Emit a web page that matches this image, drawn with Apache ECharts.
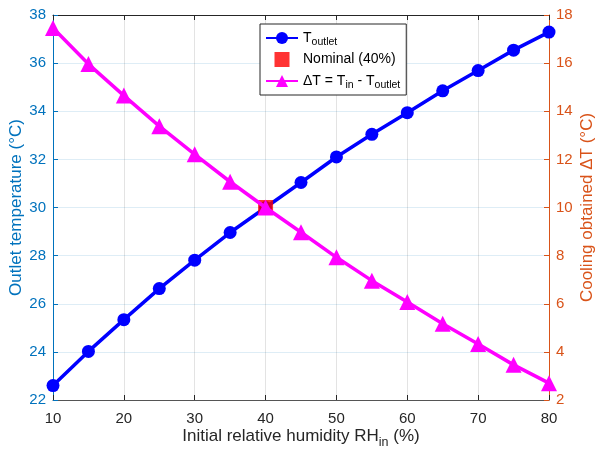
<!DOCTYPE html>
<html>
<head>
<meta charset="utf-8">
<script src="https://cdn.jsdelivr.net/npm/echarts@6/dist/echarts.min.js"></script>
<style>
html,body{margin:0;padding:0;background:#fff;}
#chart{width:596px;height:455px;}
</style>
</head>
<body>
<div id="chart"></div>
<script>
// Data
var rhIn = [10, 15, 20, 25, 30, 35, 40, 45, 50, 55, 60, 65, 70, 75, 80];
var tOutlet = [22.60, 24.02, 25.34, 26.63, 27.81, 28.96, 30.00, 31.04, 32.10, 33.04, 33.94, 34.85, 35.69, 36.54, 37.29];
var deltaT = [17.46, 15.96, 14.65, 13.38, 12.21, 11.07, 10.00, 8.97, 7.93, 6.96, 6.07, 5.17, 4.33, 3.46, 2.70];
var nominalRH = [40];
var nominalT = [30];
var xTicks = [10, 20, 30, 40, 50, 60, 70, 80];
var leftTicks = [22, 24, 26, 28, 30, 32, 34, 36, 38];
var rightTicks = [2, 4, 6, 8, 10, 12, 14, 16, 18];

var FONT = '"Liberation Sans", Arial, Helvetica, sans-serif';
var DARK = '#262626';
var BLUE_AX = '#0072BD';
var ORANGE_AX = '#D95319';

function pairs(xs, ys) { return xs.map(function (x, i) { return [x, ys[i]]; }); }

var chart = echarts.init(document.getElementById('chart'), null, { renderer: 'canvas' });

var option = {
  animation: false,
  backgroundColor: '#fff',
  textStyle: { fontFamily: FONT },
  grid: { left: 53, right: 47, top: 15, bottom: 55, containLabel: false, outerBoundsMode: 'none' },
  legend: {
    orient: 'vertical',
    left: 260,
    top: 24,
    padding: [4, 6, 4, 5],
    itemGap: 4,
    itemWidth: 32,
    itemHeight: 15,
    borderColor: DARK,
    borderWidth: 1,
    backgroundColor: '#fff',
    data: [
      { name: 'T_outlet' },
      { name: 'Nominal (40%)', icon: 'path://M0 0H10V10H0Z' },
      { name: 'dT' }
    ],
    symbolKeepAspect: true,
    formatter: function (name) {
      if (name === 'T_outlet') return '{a|T}{s|outlet}';
      if (name === 'dT') return '{a|\u0394T = T}{s|in}{a| - T}{s|outlet}';
      return '{a|' + name + '}';
    },
    textStyle: {
      fontFamily: FONT,
      color: '#000',
      rich: {
        a: { fontSize: 14, fontFamily: FONT, color: '#000', lineHeight: 16 },
        s: { fontSize: 10.5, fontFamily: FONT, color: '#000', padding: [9, 0, 0, 0], lineHeight: 16 }
      }
    }
  },
  xAxis: [
    {
      type: 'value', min: 10, max: 80, interval: 10,
      position: 'bottom',
      name: '{a|Initial relative humidity RH}{s|in}{a| (%)}',
      nameLocation: 'middle',
      nameGap: 24,
      nameMoveOverlap: false,
      nameTextStyle: {
        rich: {
          a: { fontSize: 17, fontFamily: FONT, color: DARK },
          s: { fontSize: 12.5, fontFamily: FONT, color: DARK, padding: [12, 0, 0, 0] }
        }
      },
      axisLine: { show: true, onZero: false, lineStyle: { color: '#555', width: 1 } },
      axisTick: { show: true, inside: true, length: 5, lineStyle: { color: DARK } },
      axisLabel: { color: DARK, fontSize: 15, fontFamily: FONT, margin: 11,
        formatter: function (v) { return xTicks.indexOf(v) >= 0 ? String(v) : ''; } },
      splitLine: { show: true, lineStyle: { color: 'rgba(38,38,38,0.13)', width: 1 } }
    },
    {
      type: 'value', min: 10, max: 80, interval: 10,
      position: 'top',
      axisLine: { show: true, onZero: false, lineStyle: { color: DARK, width: 1 } },
      axisTick: { show: true, inside: true, length: 5, lineStyle: { color: DARK } },
      axisLabel: { show: false },
      splitLine: { show: false }
    }
  ],
  yAxis: [
    {
      type: 'value', min: 22, max: 38, interval: 2,
      position: 'left',
      name: 'Outlet temperature (\u00B0C)',
      nameLocation: 'middle',
      nameGap: 28,
      nameMoveOverlap: false,
      nameTextStyle: { color: BLUE_AX, fontSize: 17, fontFamily: FONT },
      axisLine: { show: true, onZero: false, lineStyle: { color: BLUE_AX, width: 1 } },
      axisTick: { show: true, inside: true, length: 5, lineStyle: { color: BLUE_AX } },
      axisLabel: { color: BLUE_AX, fontSize: 15, fontFamily: FONT, margin: 7,
        formatter: function (v) { return leftTicks.indexOf(v) >= 0 ? String(v) : ''; } },
      splitLine: { show: true, lineStyle: { color: 'rgba(0,114,189,0.13)', width: 1 } }
    },
    {
      type: 'value', min: 2, max: 18, interval: 2,
      position: 'right',
      name: 'Cooling obtained \u0394T (\u00B0C)',
      nameLocation: 'middle',
      nameGap: 30,
      nameMoveOverlap: false,
      nameTextStyle: { color: ORANGE_AX, fontSize: 17, fontFamily: FONT },
      axisLine: { show: true, onZero: false, lineStyle: { color: ORANGE_AX, width: 1 } },
      axisTick: { show: true, inside: true, length: 5, lineStyle: { color: ORANGE_AX } },
      axisLabel: { color: ORANGE_AX, fontSize: 15, fontFamily: FONT, margin: 7,
        formatter: function (v) { return rightTicks.indexOf(v) >= 0 ? String(v) : ''; } },
      splitLine: { show: false }
    }
  ],
  series: [
    {
      name: 'T_outlet',
      type: 'line',
      xAxisIndex: 0, yAxisIndex: 0,
      data: pairs(rhIn, tOutlet),
      color: '#0000FF',
      lineStyle: { color: '#0000FF', width: 3.5 },
      itemStyle: { color: '#0000FF' },
      symbol: 'circle',
      symbolSize: 13,
      showSymbol: true,
      z: 2
    },
    {
      name: 'Nominal (40%)',
      type: 'scatter',
      xAxisIndex: 0, yAxisIndex: 0,
      data: pairs(nominalRH, nominalT),
      color: '#FF0000',
      itemStyle: { color: '#FF0000' },
      symbol: 'rect',
      symbolSize: 15,
      z: 3
    },
    {
      name: 'dT',
      type: 'line',
      xAxisIndex: 0, yAxisIndex: 1,
      data: pairs(rhIn, deltaT),
      color: '#FF00FF',
      lineStyle: { color: '#FF00FF', width: 3.5 },
      itemStyle: { color: '#FF00FF' },
      symbol: 'triangle',
      symbolSize: 16,
      showSymbol: true,
      z: 4
    }
  ]
};
chart.setOption(option);
</script>
</body>
</html>
